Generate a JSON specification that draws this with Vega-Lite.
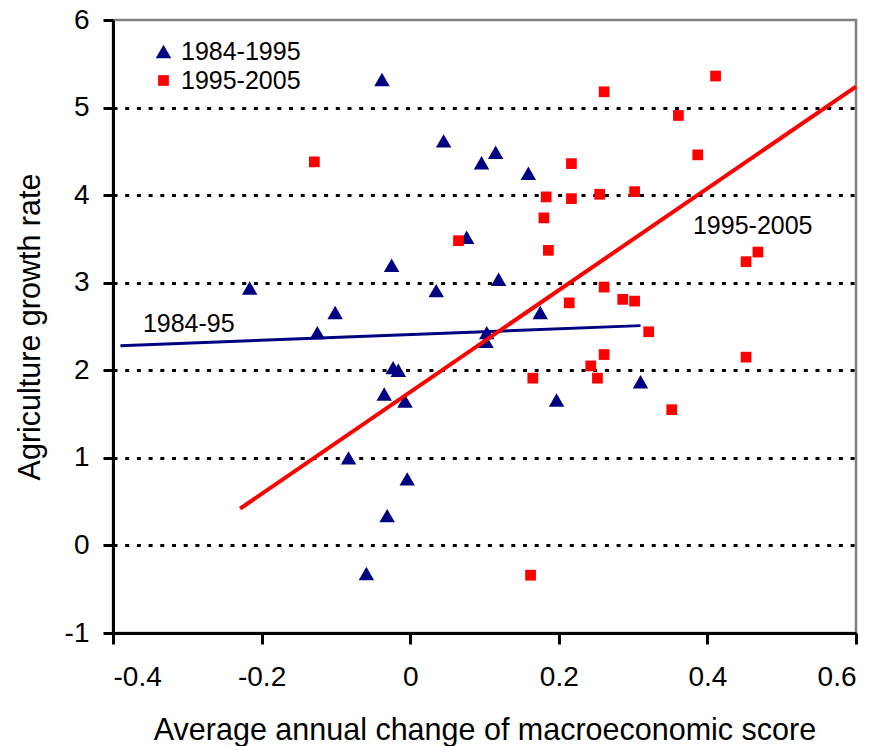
{
  "$schema": "https://vega.github.io/schema/vega-lite/v6.json",
  "autosize": "none",
  "width": 743,
  "height": 613,
  "padding": {"left": 113, "top": 20, "right": 37, "bottom": 113},
  "background": "white",
  "config": {
    "font": "Liberation Sans",
    "view": {"stroke": "#808080", "strokeWidth": 2.5},
    "axis": {
      "domainColor": "black", "domainWidth": 3, "tickColor": "black", "tickWidth": 3,
      "labelColor": "black", "titleColor": "black", "labelFont": "Liberation Sans", "titleFont": "Liberation Sans",
      "labelFontSize": 28, "titleFontSize": 30.5, "titleFontWeight": "normal"
    }
  },
  "datasets": {
    "points": [
      {"period": "1984-1995", "x": -0.038, "y": 5.32},
      {"period": "1984-1995", "x": 0.045, "y": 4.62},
      {"period": "1984-1995", "x": 0.115, "y": 4.49},
      {"period": "1984-1995", "x": 0.096, "y": 4.37},
      {"period": "1984-1995", "x": 0.159, "y": 4.25},
      {"period": "1984-1995", "x": 0.076, "y": 3.52},
      {"period": "1984-1995", "x": -0.025, "y": 3.20},
      {"period": "1984-1995", "x": 0.119, "y": 3.04},
      {"period": "1984-1995", "x": -0.216, "y": 2.94},
      {"period": "1984-1995", "x": 0.035, "y": 2.91},
      {"period": "1984-1995", "x": -0.101, "y": 2.66},
      {"period": "1984-1995", "x": 0.175, "y": 2.66},
      {"period": "1984-1995", "x": -0.125, "y": 2.43},
      {"period": "1984-1995", "x": 0.103, "y": 2.43},
      {"period": "1984-1995", "x": 0.102, "y": 2.33},
      {"period": "1984-1995", "x": -0.023, "y": 2.03},
      {"period": "1984-1995", "x": -0.016, "y": 2.00},
      {"period": "1984-1995", "x": -0.035, "y": 1.73},
      {"period": "1984-1995", "x": -0.007, "y": 1.65},
      {"period": "1984-1995", "x": 0.197, "y": 1.66},
      {"period": "1984-1995", "x": 0.310, "y": 1.87},
      {"period": "1984-1995", "x": -0.083, "y": 1.00},
      {"period": "1984-1995", "x": -0.004, "y": 0.76},
      {"period": "1984-1995", "x": -0.031, "y": 0.34},
      {"period": "1984-1995", "x": -0.059, "y": -0.32},
      {"period": "1995-2005", "x": 0.411, "y": 5.36},
      {"period": "1995-2005", "x": 0.261, "y": 5.18},
      {"period": "1995-2005", "x": 0.361, "y": 4.91},
      {"period": "1995-2005", "x": 0.387, "y": 4.46},
      {"period": "1995-2005", "x": -0.129, "y": 4.38},
      {"period": "1995-2005", "x": 0.217, "y": 4.36},
      {"period": "1995-2005", "x": 0.183, "y": 3.98},
      {"period": "1995-2005", "x": 0.217, "y": 3.96},
      {"period": "1995-2005", "x": 0.255, "y": 4.01},
      {"period": "1995-2005", "x": 0.302, "y": 4.04},
      {"period": "1995-2005", "x": 0.180, "y": 3.74},
      {"period": "1995-2005", "x": 0.065, "y": 3.48},
      {"period": "1995-2005", "x": 0.186, "y": 3.37},
      {"period": "1995-2005", "x": 0.468, "y": 3.35},
      {"period": "1995-2005", "x": 0.452, "y": 3.24},
      {"period": "1995-2005", "x": 0.261, "y": 2.95},
      {"period": "1995-2005", "x": 0.286, "y": 2.81},
      {"period": "1995-2005", "x": 0.302, "y": 2.79},
      {"period": "1995-2005", "x": 0.214, "y": 2.77},
      {"period": "1995-2005", "x": 0.321, "y": 2.44},
      {"period": "1995-2005", "x": 0.261, "y": 2.18},
      {"period": "1995-2005", "x": 0.452, "y": 2.15},
      {"period": "1995-2005", "x": 0.243, "y": 2.05},
      {"period": "1995-2005", "x": 0.165, "y": 1.91},
      {"period": "1995-2005", "x": 0.252, "y": 1.91},
      {"period": "1995-2005", "x": 0.352, "y": 1.55},
      {"period": "1995-2005", "x": 0.162, "y": -0.34}
    ],
    "trends": [
      {"series": "1984-95", "x": -0.39, "y": 2.28},
      {"series": "1984-95", "x": 0.31, "y": 2.51},
      {"series": "1995-2005", "x": -0.229, "y": 0.42},
      {"series": "1995-2005", "x": 0.6, "y": 5.24}
    ],
    "labels": [
      {"label": "1984-95", "x": -0.298, "y": 2.44},
      {"label": "1995-2005", "x": 0.461, "y": 3.557}
    ]
  },
  "layer": [
    {
      "data": {"name": "points"},
      "mark": {"type": "point", "filled": true, "opacity": 1},
      "encoding": {
        "x": {
          "field": "x", "type": "quantitative",
          "scale": {"domain": [-0.4, 0.6], "nice": false, "zero": false},
          "axis": {
            "title": "Average annual change of macroeconomic score",
            "values": [-0.4, -0.2, 0, 0.2, 0.4, 0.6],
            "grid": false, "tickSize": 11, "labelPadding": 19, "titlePadding": 24,
            "labelExpr": "replace(format(datum.value, '.1~f'), '\u2212', '-')"
          }
        },
        "y": {
          "field": "y", "type": "quantitative",
          "scale": {"domain": [-1, 6], "nice": false, "zero": false},
          "axis": {
            "title": "Agriculture growth rate",
            "values": [-1, 0, 1, 2, 3, 4, 5, 6],
            "tickSize": 10, "labelPadding": 14, "titlePadding": 19,
            "labelExpr": "replace(format(datum.value, 'd'), '\u2212', '-')",
            "grid": true, "gridColor": "black", "gridWidth": 3, "gridDash": [4, 7.7],
            "gridOpacity": {"condition": {"test": "datum.value >= 6 || datum.value <= -1", "value": 0}, "value": 1}
          }
        },
        "color": {
          "field": "period", "type": "nominal",
          "scale": {"domain": ["1984-1995", "1995-2005"], "range": ["#000080", "#FF0000"]},
          "legend": {
            "title": null, "orient": "none", "legendX": 38, "legendY": 19,
            "labelFontSize": 25, "labelFont": "Liberation Sans", "labelColor": "black",
            "labelOffset": 5, "rowPadding": 3, "padding": 0, "symbolStrokeWidth": 0
          }
        },
        "shape": {
          "field": "period", "type": "nominal",
          "scale": {"domain": ["1984-1995", "1995-2005"], "range": ["triangle-up", "square"]}
        },
        "size": {
          "field": "period", "type": "nominal",
          "scale": {"domain": ["1984-1995", "1995-2005"], "range": [240, 115]}
        }
      }
    },
    {
      "data": {"name": "trends"},
      "transform": [{"filter": "datum.series === '1984-95'"}],
      "mark": {"type": "line", "color": "#000080", "strokeWidth": 3},
      "encoding": {
        "x": {"field": "x", "type": "quantitative"},
        "y": {"field": "y", "type": "quantitative"}
      }
    },
    {
      "data": {"name": "trends"},
      "transform": [{"filter": "datum.series === '1995-2005'"}],
      "mark": {"type": "line", "color": "#FF0000", "strokeWidth": 4},
      "encoding": {
        "x": {"field": "x", "type": "quantitative"},
        "y": {"field": "y", "type": "quantitative"}
      }
    },
    {
      "data": {"name": "labels"},
      "mark": {"type": "text", "fontSize": 25, "font": "Liberation Sans", "color": "black", "align": "center", "baseline": "alphabetic"},
      "encoding": {
        "x": {"field": "x", "type": "quantitative"},
        "y": {"field": "y", "type": "quantitative"},
        "text": {"field": "label"}
      }
    }
  ]
}
